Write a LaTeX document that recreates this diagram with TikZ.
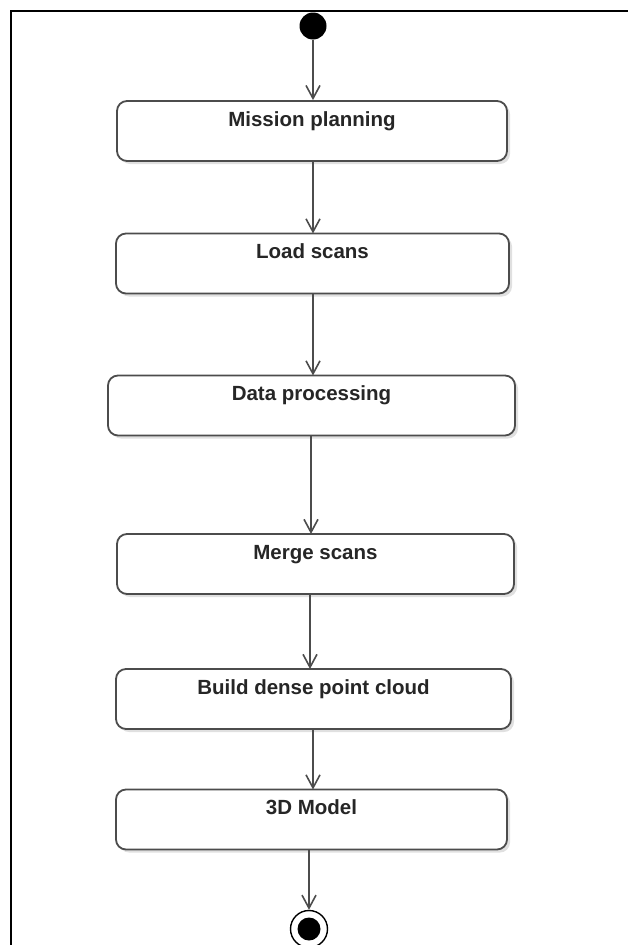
\documentclass[tikz,border=0pt]{standalone}
\usepackage{fontspec}
\setmainfont{Liberation Sans}
\usetikzlibrary{arrows.meta,calc,shadows}
\tikzset{
  actbox/.style={draw=black!70, line width=1.8pt, rounded corners=10pt, fill=white,
    minimum height=60pt, inner sep=0pt,
    drop shadow={shadow xshift=3pt, shadow yshift=-3pt, opacity=0.12, fill=black}},
  lbl/.style={anchor=base, font=\bfseries\fontsize{20.5}{24}\selectfont, text=black!85, inner sep=0pt},
  flow/.style={draw=black!70, line width=1.8pt, -{Straight Barb[length=13pt,width=14pt,line width=1.6pt]}},
  frame/.style={draw=black, line width=2.2pt}
}
\begin{document}
\begin{tikzpicture}[x=1pt,y=-1pt]
  \useasboundingbox (0,0) rectangle (627,945);
  % outer frame (only top and left edges fall inside the page)
  \draw[frame] (11,945) -- (11,11) -- (630,11);

  % start node
  \node[circle, fill=black, minimum size=27pt, inner sep=0pt] (start) at (313,26) {};

  % activities
  \node[actbox, minimum width=390pt] (mp) at (312,131) {};
  \node[lbl] at ($(mp.north)+(0,26)$) {Mission planning};
  \node[actbox, minimum width=393pt] (ls) at (312.5,263.5) {};
  \node[lbl] at ($(ls.north)+(0,26)$) {Load scans};
  \node[actbox, minimum width=407pt] (dp) at (311.5,405.5) {};
  \node[lbl] at ($(dp.north)+(0,26)$) {Data processing};
  \node[actbox, minimum width=397pt] (ms) at (315.5,564) {};
  \node[lbl] at ($(ms.north)+(0,26)$) {Merge scans};
  \node[actbox, minimum width=395pt] (bd) at (313.5,699) {};
  \node[lbl] at ($(bd.north)+(0,26)$) {Build dense point cloud};
  \node[actbox, minimum width=391pt] (md) at (311.5,819.5) {};
  \node[lbl] at ($(md.north)+(0,26)$) {3D Model};

  % end node
  \node[circle, draw=black, line width=1.4pt, minimum size=37pt, inner sep=0pt] (stop) at (309,929) {};
  \node[circle, fill=black, minimum size=23pt, inner sep=0pt] at (stop) {};

  % control flow
  \draw[flow] (start.south) -- (start.south |- mp.north);
  \draw[flow] (313,161) -- (313,233.5);
  \draw[flow] (313,293.5) -- (313,375.5);
  \draw[flow] (311,435.5) -- (311,534);
  \draw[flow] (310,594) -- (310,669);
  \draw[flow] (313,729) -- (313,789.5);
  \draw[flow] (309,849.5) -- (stop.north);
\end{tikzpicture}
\end{document}
